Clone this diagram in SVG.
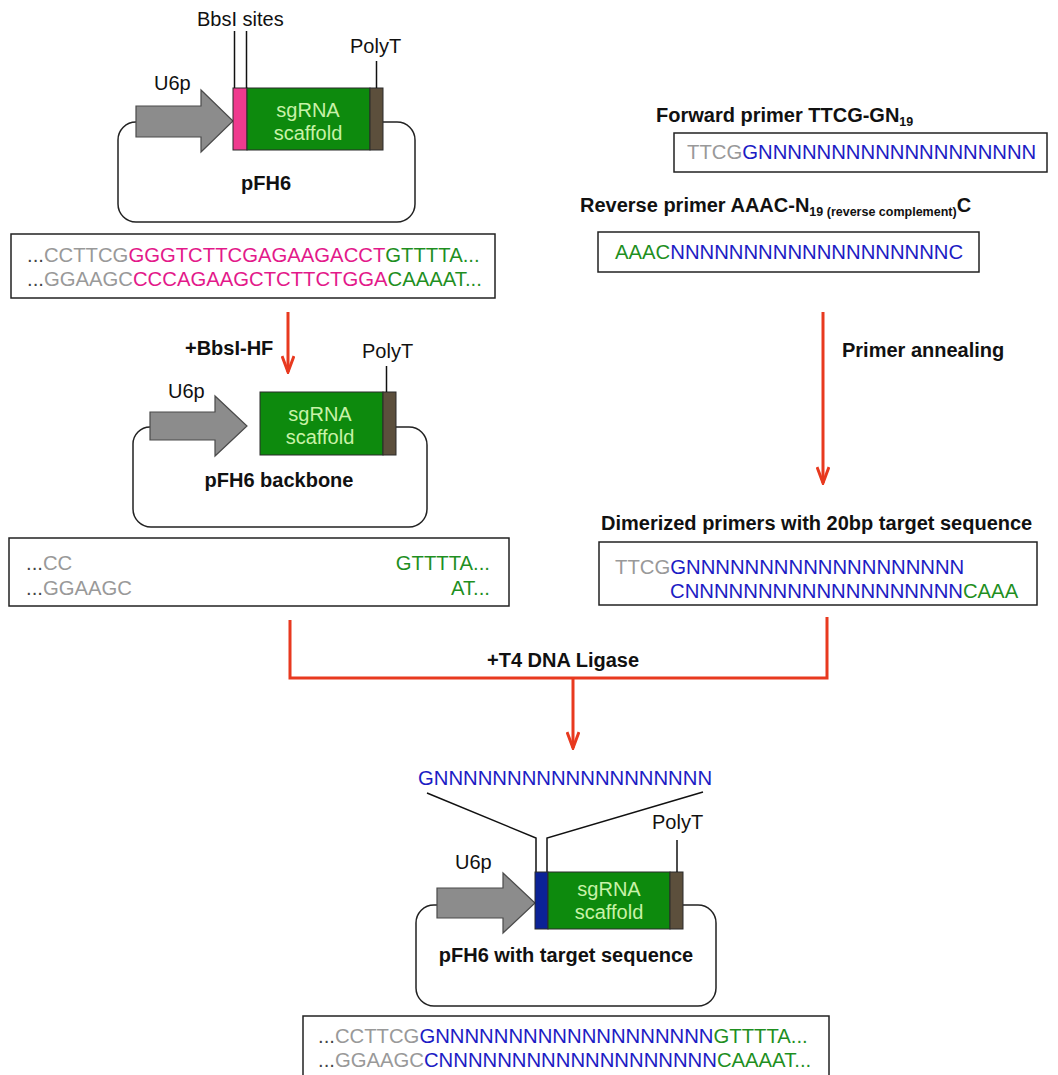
<svg xmlns="http://www.w3.org/2000/svg" width="1058" height="1075" viewBox="0 0 1058 1075">
<defs>
<style>
text{font-family:"Liberation Sans",Arial,sans-serif;font-size:20px;fill:#111}
.b{font-weight:bold}
.sq{font-size:20.3px}
.sg{fill:#c8f2a8;text-anchor:middle}
.gy{fill:#999}
.dk{fill:#444}
.pk{fill:#e3198a}
.gn{fill:#1f8f1f}
.bl{fill:#1c1cc4}
.sub{font-size:12.5px}
.box{fill:#fff;stroke:#222;stroke-width:1.5}
.bb{fill:none;stroke:#222;stroke-width:1.5}
.prom{fill:#8c8c8c;stroke:#4a4a4a;stroke-width:1.2}
.gene{fill:#0d8a0d;stroke:#2a2a2a;stroke-width:1}
.polyt{fill:#5c4f3c;stroke:#2a2a2a;stroke-width:1}
.tick{stroke:#111;stroke-width:1.5;fill:none}
.red{stroke:#e8391f;stroke-width:3;fill:none}
</style>
<marker id="chev" viewBox="0 0 20 14" refX="18" refY="7" markerWidth="20" markerHeight="14" markerUnits="userSpaceOnUse" orient="auto">
<path d="M2,1 L18,7 L2,13" fill="none" stroke="#e8391f" stroke-width="3"/>
</marker>
</defs>
<rect width="1058" height="1075" fill="#fff"/>

<!-- Plasmid pFH6 -->
<g id="pfh6">
<path class="bb" d="M136,122 A18,18 0 0 0 118,140 V204 A18,18 0 0 0 136,222 H397 A18,18 0 0 0 415,204 V140 A18,18 0 0 0 397,122 H383"/>
<path class="prom" d="M136,106 H201 V90 L233,121 L201,152 V137 H136 Z"/>
<rect x="233" y="88" width="14" height="62" fill="#ef3a8e" stroke="#2a2a2a" stroke-width="1"/>
<rect class="gene" x="247" y="88" width="123" height="62"/>
<rect class="polyt" x="370" y="88" width="13" height="62"/>
<line class="tick" x1="234.5" y1="31" x2="234.5" y2="88"/>
<line class="tick" x1="246.5" y1="31" x2="246.5" y2="88"/>
<line class="tick" x1="376.5" y1="61" x2="376.5" y2="88"/>
<text x="197" y="26">BbsI sites</text>
<text x="350" y="53">PolyT</text>
<text x="154" y="90">U6p</text>
<text class="sg" x="308" y="117">sgRNA</text>
<text class="sg" x="308" y="140">scaffold</text>
<text class="b" x="266" y="190" text-anchor="middle">pFH6</text>
</g>

<g id="seq1">
<rect class="box" x="11" y="234" width="484" height="64"/>
<text class="sq" x="27" y="262"><tspan class="dk">...</tspan><tspan class="gy">CCTTCG</tspan><tspan class="pk">GGGTCTTCGAGAAGACCT</tspan><tspan class="gn">GTTTTA...</tspan></text>
<text class="sq" x="27" y="286"><tspan class="dk">...</tspan><tspan class="gy">GGAAGC</tspan><tspan class="pk">CCCAGAAGCTCTTCTGGA</tspan><tspan class="gn">CAAAAT...</tspan></text>
</g>

<!-- Plasmid backbone -->
<g id="backbone">
<path class="bb" d="M150,427 A17,17 0 0 0 133,444 V509 A18,18 0 0 0 151,527 H409 A18,18 0 0 0 427,509 V445 A18,18 0 0 0 409,427 H396"/>
<path class="prom" d="M150,412 H215 V396 L247,426 L215,456 V440 H150 Z"/>
<rect class="gene" x="260" y="392" width="123" height="63"/>
<rect class="polyt" x="383" y="392" width="13" height="63"/>
<line class="tick" x1="386.5" y1="366" x2="386.5" y2="392"/>
<text x="362" y="358">PolyT</text>
<text x="168" y="398">U6p</text>
<text class="sg" x="320" y="421">sgRNA</text>
<text class="sg" x="320" y="444">scaffold</text>
<text class="b" x="279" y="487" text-anchor="middle">pFH6 backbone</text>
</g>

<g id="seq2">
<rect class="box" x="9" y="538" width="500" height="68"/>
<text class="sq" x="26" y="570"><tspan class="dk">...</tspan><tspan class="gy">CC</tspan></text>
<text class="sq" x="26" y="595"><tspan class="dk">...</tspan><tspan class="gy">GGAAGC</tspan></text>
<text x="490" y="570" text-anchor="end" class="gn sq">GTTTTA...</text>
<text x="490" y="595" text-anchor="end" class="gn sq">AT...</text>
</g>

<!-- Primers -->
<g id="fwd">
<text class="b" x="656" y="122">Forward primer TTCG-GN<tspan class="sub" dy="4">19</tspan></text>
<rect class="box" x="674" y="133" width="373" height="39"/>
<text class="sq" x="687" y="159"><tspan class="gy">TTCG</tspan><tspan class="bl">GNNNNNNNNNNNNNNNNNNN</tspan></text>
</g>
<g id="rev">
<text class="b" x="580" y="212">Reverse primer AAAC-N<tspan class="sub" dy="4">19 (reverse complement)</tspan><tspan dy="-4">C</tspan></text>
<rect class="box" x="598" y="232" width="381" height="40"/>
<text class="sq" x="615" y="259"><tspan class="gn">AAAC</tspan><tspan class="bl">NNNNNNNNNNNNNNNNNNNC</tspan></text>
</g>

<g id="dimer">
<text class="b" x="601" y="530">Dimerized primers with 20bp target sequence</text>
<rect class="box" x="599" y="542" width="438" height="63"/>
<text class="sq" x="615" y="574"><tspan class="gy">TTCG</tspan><tspan class="bl">GNNNNNNNNNNNNNNNNNNN</tspan></text>
<text class="sq" x="670" y="598"><tspan class="bl">CNNNNNNNNNNNNNNNNNNN</tspan><tspan class="gn">CAAA</tspan></text>
</g>

<!-- Final plasmid -->
<g id="final">
<text x="418" y="785" class="bl sq">GNNNNNNNNNNNNNNNNNNN</text>
<polyline class="tick" points="427,793 536,838 536,872"/>
<polyline class="tick" points="703,792 547,838 547,872"/>
<path class="bb" d="M437,905 H434 A18,18 0 0 0 416,923 V988 A18,18 0 0 0 434,1006 H698 A18,18 0 0 0 716,988 V923 A18,18 0 0 0 698,905 H683"/>
<path class="prom" d="M437,888 H503 V873 L535,903 L503,933 V918 H437 Z"/>
<rect x="535" y="872" width="13" height="57" fill="#0b2296" stroke="#2a2a2a" stroke-width="1"/>
<rect class="gene" x="548" y="872" width="122" height="57"/>
<rect class="polyt" x="670" y="872" width="13" height="57"/>
<line class="tick" x1="677" y1="840" x2="677" y2="872"/>
<text x="652" y="829">PolyT</text>
<text x="455" y="869">U6p</text>
<text class="sg" x="609" y="896">sgRNA</text>
<text class="sg" x="609" y="919">scaffold</text>
<text class="b" x="566" y="962" text-anchor="middle">pFH6 with target sequence</text>
</g>

<g id="seq3">
<rect class="box" x="303" y="1016" width="526" height="70"/>
<text class="sq" x="318" y="1043"><tspan class="dk">...</tspan><tspan class="gy">CCTTCG</tspan><tspan class="bl">GNNNNNNNNNNNNNNNNNNN</tspan><tspan class="gn">GTTTTA...</tspan></text>
<text class="sq" x="318" y="1067"><tspan class="dk">...</tspan><tspan class="gy">GGAAGC</tspan><tspan class="bl">CNNNNNNNNNNNNNNNNNNN</tspan><tspan class="gn">CAAAAT...</tspan></text>
</g>

<!-- Connectors -->
<g id="connectors">
<line class="red" x1="288" y1="312" x2="288" y2="372" marker-end="url(#chev)"/>
<line class="red" x1="823" y1="312" x2="823" y2="483" marker-end="url(#chev)"/>
<polyline class="red" points="290,620 290,678 827,678 827,617"/>
<line class="red" x1="573" y1="678" x2="573" y2="748" marker-end="url(#chev)"/>
<text class="b" x="185" y="355">+BbsI-HF</text>
<text class="b" x="842" y="357">Primer annealing</text>
<text class="b" x="487" y="667">+T4 DNA Ligase</text>
</g>
</svg>
